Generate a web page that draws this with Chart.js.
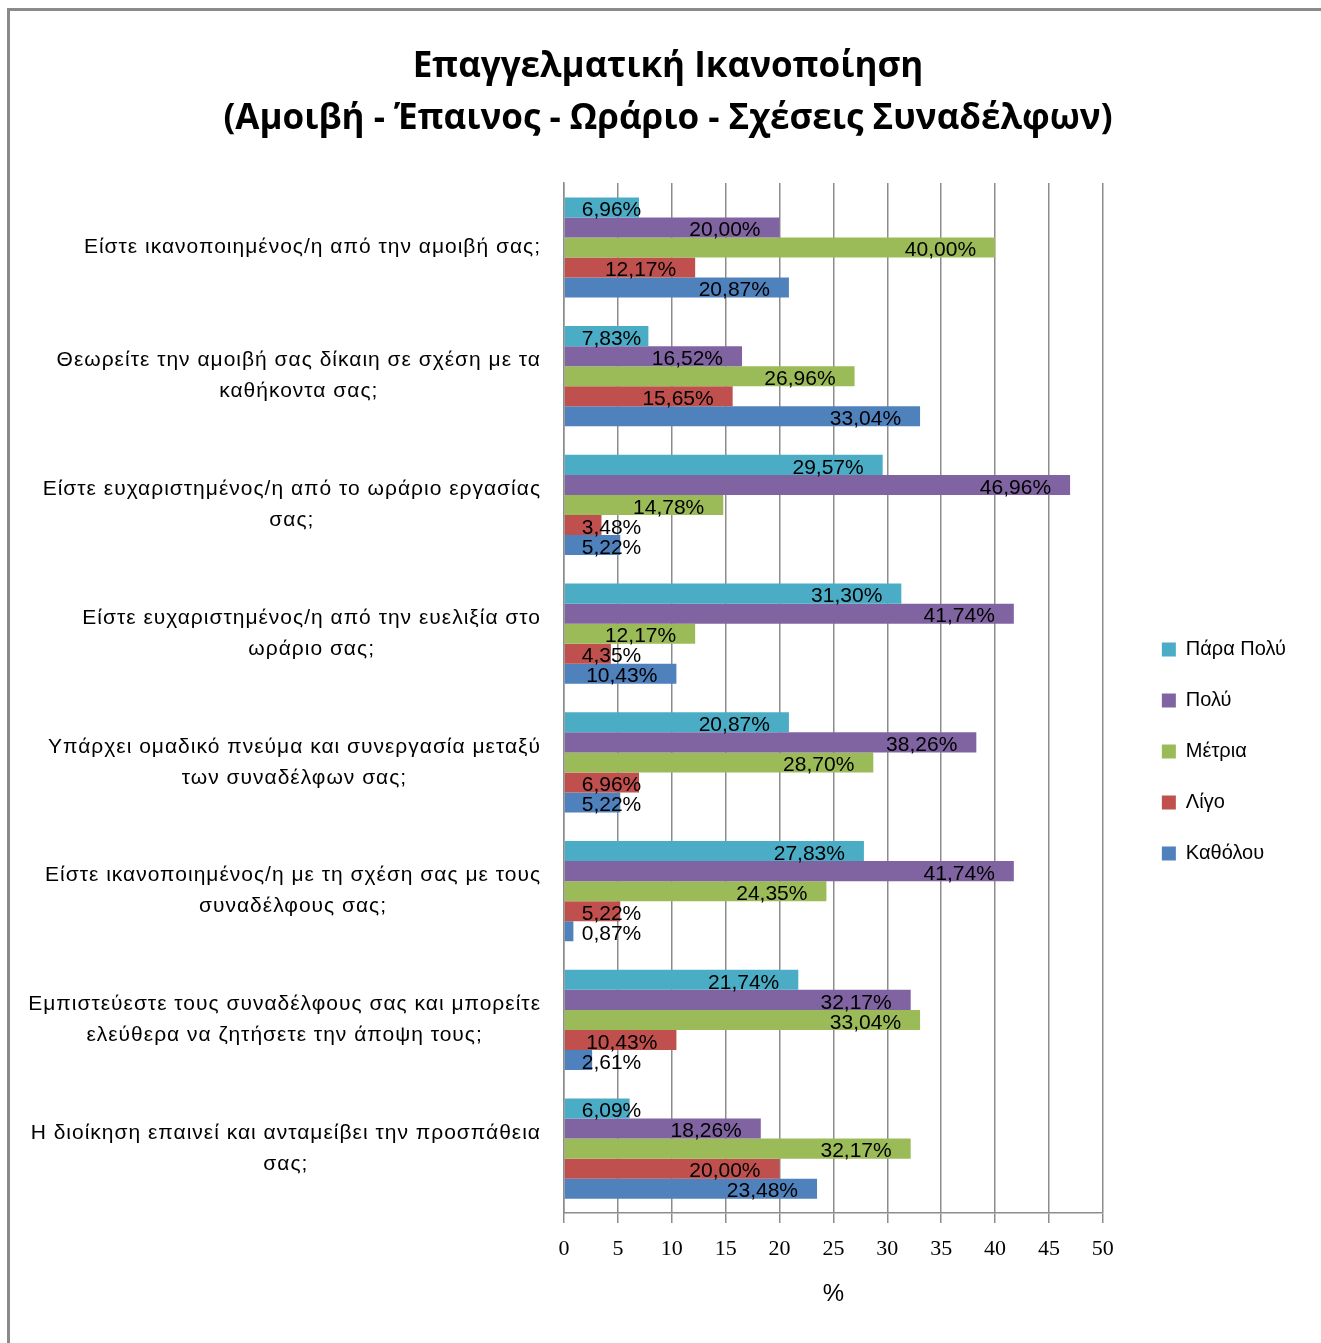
<!DOCTYPE html>
<html>
<head>
<meta charset="utf-8">
<script src="https://cdn.jsdelivr.net/npm/chart.js@4.4.0/dist/chart.umd.min.js"></script>
<style>
  html, body { margin: 0; padding: 0; background: #fff; }
  #wrap { width: 1321px; height: 1343px; }
</style>
</head>
<body>
<div id="wrap"><canvas id="grafima"></canvas></div>
<script>
// Ερωτήσεις (κατηγορίες), σπασμένες σε γραμμές όπως στο πρωτότυπο
var categories = [
    ['Είστε ικανοποιημένος/η από την αμοιβή σας;'],
    ['Θεωρείτε την αμοιβή σας δίκαιη σε σχέση με τα', 'καθήκοντα σας;'],
    ['Είστε ευχαριστημένος/η από το ωράριο εργασίας', 'σας;'],
    ['Είστε ευχαριστημένος/η από την ευελιξία στο', 'ωράριο σας;'],
    ['Υπάρχει ομαδικό πνεύμα και συνεργασία μεταξύ', 'των συναδέλφων σας;'],
    ['Είστε ικανοποιημένος/η με τη σχέση σας με τους', 'συναδέλφους σας;'],
    ['Εμπιστεύεστε τους συναδέλφους σας και μπορείτε', 'ελεύθερα να ζητήσετε την άποψη τους;'],
    ['Η διοίκηση επαινεί και ανταμείβει την προσπάθεια', 'σας;']
];

var seriesNames = ['Πάρα Πολύ', 'Πολύ', 'Μέτρια', 'Λίγο', 'Καθόλου'];

// Ποσοστά ανά απάντηση (%)
var paraPoly = [6.96, 7.83, 29.57, 31.30, 20.87, 27.83, 21.74, 6.09];
var poly     = [20.00, 16.52, 46.96, 41.74, 38.26, 41.74, 32.17, 18.26];
var metria   = [40.00, 26.96, 14.78, 12.17, 28.70, 24.35, 33.04, 32.17];
var ligo     = [12.17, 15.65, 3.48, 4.35, 6.96, 5.22, 10.43, 20.00];
var katholou = [20.87, 33.04, 5.22, 10.43, 5.22, 0.87, 2.61, 23.48];

// Άξονας x: 0 έως 50 ανά 5
var xMin = 0, xMax = 50, xStep = 5;

var colors = ['#4BACC6', '#8064A2', '#9BBB59', '#C0504D', '#4F81BD'];
var allSeries = [paraPoly, poly, metria, ligo, katholou];

var datasets = allSeries.map(function (values, i) {
    return {
        label: seriesNames[i],
        data: values,
        backgroundColor: colors[i],
        borderWidth: 0,
        barPercentage: 1,
        categoryPercentage: 0.777
    };
});

var labelFont = '21px "Liberation Sans", sans-serif';

// Πλαίσιο γύρω από το γράφημα
var framePlugin = {
    id: 'frame',
    beforeDraw: function (chart) {
        var ctx = chart.ctx;
        ctx.save();
        ctx.fillStyle = '#fff';
        ctx.fillRect(0, 0, chart.width, chart.height);
        ctx.strokeStyle = '#8a8a8a';
        ctx.lineWidth = 3;
        ctx.beginPath();
        ctx.moveTo(8.5, chart.height);
        ctx.lineTo(8.5, 9.5);
        ctx.lineTo(chart.width, 9.5);
        ctx.stroke();
        ctx.restore();
    }
};

// Μετακίνηση του υπομνήματος λίγο δεξιά και κάτω
var legendShift = {
    id: 'legendShift',
    afterLayout: function (chart) {
        var lg = chart.legend;
        lg.left += 28; lg.right += 28;
        lg.top += 80; lg.bottom += 80;
    }
};

// Ετικέτες κατηγοριών: κάθε μπλοκ στοιχισμένο δεξιά, οι γραμμές στο κέντρο
var catLabelsPlugin = {
    id: 'catLabels',
    afterDraw: function (chart) {
        var ctx = chart.ctx;
        var scale = chart.scales.y;
        ctx.save();
        ctx.font = labelFont;
        ctx.letterSpacing = '1px';
        ctx.fillStyle = '#000';
        ctx.textAlign = 'center';
        ctx.textBaseline = 'middle';
        var lineH = 31;
        categories.forEach(function (lines, i) {
            var widest = 0;
            lines.forEach(function (l) { widest = Math.max(widest, ctx.measureText(l).width); });
            var cx = scale.right - 23 - widest / 2;
            var cy = scale.getPixelForTick(i);
            var y0 = cy - (lines.length - 1) * lineH / 2;
            lines.forEach(function (l, k) { ctx.fillText(l, cx, y0 + k * lineH); });
        });
        ctx.restore();
    }
};

// Ετικέτες τιμών πάνω στις μπάρες
var valueLabelsPlugin = {
    id: 'valueLabels',
    afterDatasetsDraw: function (chart) {
        var ctx = chart.ctx;
        ctx.save();
        ctx.font = '21px "Liberation Sans", sans-serif';
        ctx.fillStyle = '#000';
        ctx.textAlign = 'right';
        ctx.textBaseline = 'middle';
        chart.data.datasets.forEach(function (ds, di) {
            var meta = chart.getDatasetMeta(di);
            meta.data.forEach(function (bar, i) {
                var txt = ds.data[i].toFixed(2).replace('.', ',') + '%';
                var w = ctx.measureText(txt).width;
                var right = Math.max(bar.x - 19, bar.base + 17 + w);
                ctx.fillText(txt, right, bar.y + 3);
            });
        });
        ctx.restore();
    }
};

var canvas = document.getElementById('grafima');

var config = {
    type: 'bar',
    data: {
        labels: categories,
        datasets: datasets
    },
    options: {
        indexAxis: 'y',
        responsive: true,
        maintainAspectRatio: false,
        animation: false,
        layout: { padding: { left: 68, right: 53, top: 0, bottom: 0 } },
        scales: {
            x: {
                min: xMin,
                max: xMax,
                grid: {
                    color: '#8c8c8c',
                    lineWidth: 1.5,
                    tickLength: 10,
                    drawTicks: true
                },
                border: { color: '#8c8c8c', width: 1.5 },
                ticks: {
                    stepSize: xStep,
                    padding: 13,
                    color: '#000',
                    font: { family: '"Liberation Serif", serif', size: 22 }
                },
                title: {
                    display: true,
                    text: '%',
                    color: '#000',
                    font: { family: '"Liberation Sans", sans-serif', size: 24 },
                    padding: { top: 0, bottom: 34 }
                },
                afterFit: function (scale) { scale.height = 130; }
            },
            y: {
                grid: { display: false },
                border: { color: '#8c8c8c', width: 1.5 },
                ticks: { display: false },
                afterFit: function (scale) { scale.width = 496; }
            }
        },
        plugins: {
            title: {
                display: true,
                text: ['Επαγγελματική Ικανοποίηση', '(Αμοιβή - Έπαινος - Ωράριο - Σχέσεις Συναδέλφων)'],
                color: '#000',
                font: { family: '"Open Sans", sans-serif', size: 35, weight: 'bold', lineHeight: 1.486 },
                padding: { top: 41, bottom: 38 }
            },
            legend: {
                position: 'right',
                labels: {
                    boxWidth: 14,
                    boxHeight: 14,
                    padding: 31,
                    color: '#000',
                    font: { family: '"Liberation Sans", sans-serif', size: 20 }
                }
            },
            tooltip: { enabled: false }
        }
    },
    plugins: [framePlugin, legendShift, catLabelsPlugin, valueLabelsPlugin]
};

var grafima = new Chart(canvas, config);
</script>
</body>
</html>
